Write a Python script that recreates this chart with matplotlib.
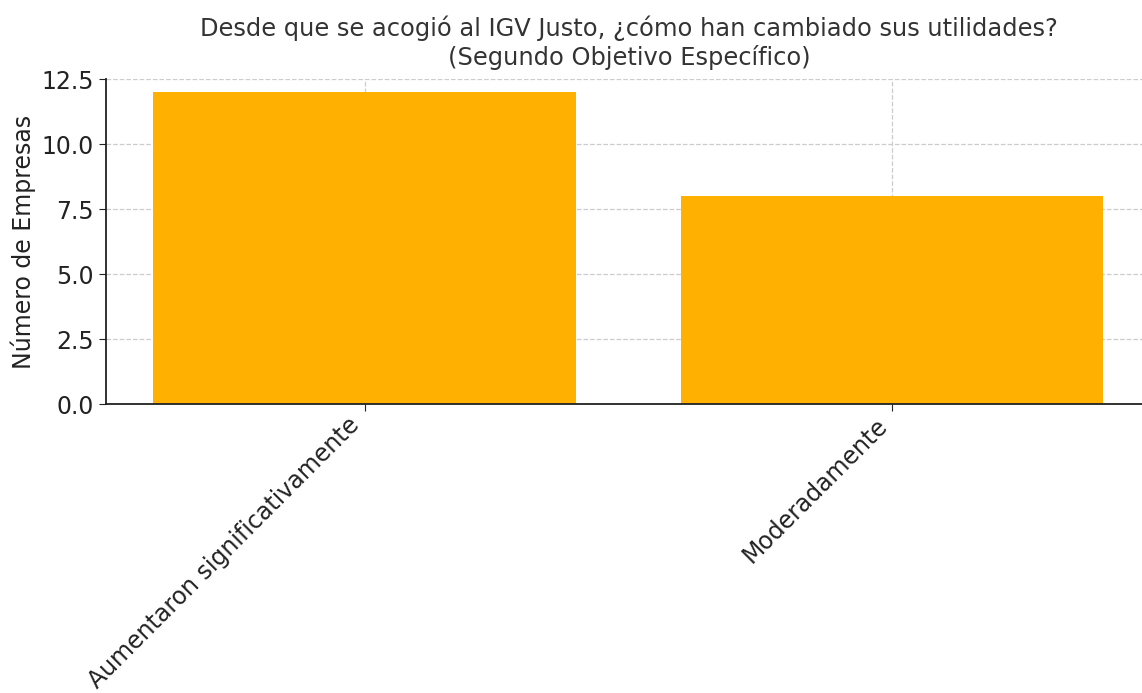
import matplotlib
matplotlib.use("Agg")
import matplotlib.pyplot as plt

categories = ["Aumentaron significativamente", "Moderadamente"]
empresas = [12, 8]

fig = plt.figure(figsize=(11.42, 6.93), dpi=100)
# right spine sits just past the picture edge, as in the cropped original
ax = fig.add_axes([0.0928, 0.417, 0.915, 0.469])

ax.bar(categories, empresas, color="#FFB000", width=0.8, zorder=2)
ax.set_xlim(-0.49, 1.49)
ax.set_ylim(0, 12.5)
ax.set_yticks([0, 2.5, 5.0, 7.5, 10.0, 12.5])
ax.grid(True, linestyle="--", color="#cccccc", linewidth=0.9, zorder=0)
ax.set_axisbelow(True)
for s in ["top", "right"]:
    ax.spines[s].set_visible(False)
ax.spines["left"].set_color("#222222")
ax.spines["bottom"].set_color("#222222")
ax.spines["left"].set_linewidth(1.3)
ax.spines["bottom"].set_linewidth(1.3)
ax.tick_params(axis="both", labelsize=17, colors="#222222", length=5)
ax.tick_params(axis="x", pad=1.5)
plt.setp(ax.get_xticklabels(), rotation=45, ha="right")
ax.set_ylabel("Número de Empresas", fontsize=17, color="#222222")
fig.suptitle("Desde que se acogió al IGV Justo, ¿cómo han cambiado sus utilidades?\n(Segundo Objetivo Específico)",
             fontsize=17.4, color="#333333", x=0.551, y=0.978, va="top")

fig.savefig("out.png", dpi=100)
